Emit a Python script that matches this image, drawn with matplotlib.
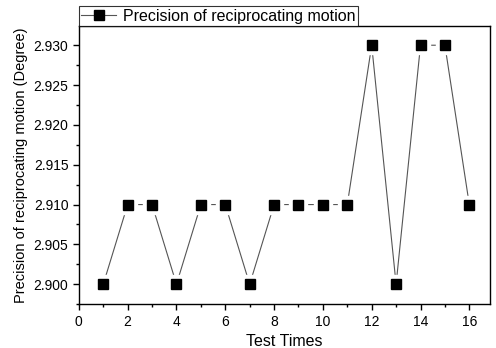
import matplotlib
matplotlib.use("Agg")
import matplotlib.pyplot as plt
from matplotlib.ticker import MultipleLocator, FormatStrFormatter
from matplotlib.lines import Line2D

plt.rcParams['font.family'] = ['Liberation Sans', 'DejaVu Sans']

test_times = [1, 2, 3, 4, 5, 6, 7, 8, 9, 10, 11, 12, 13, 14, 15, 16]
precision = [2.900, 2.910, 2.910, 2.900, 2.910, 2.910, 2.900, 2.910,
             2.910, 2.910, 2.910, 2.930, 2.900, 2.930, 2.930, 2.910]
series_label = "Precision of reciprocating motion"

fig = plt.figure(figsize=(4.96, 3.48), dpi=100)
ax = fig.add_axes([0.159, 0.126, 0.829, 0.799])

ax.plot(test_times, precision, color='#555555', lw=0.8, zorder=1)
ax.plot(test_times, precision, ls='none', marker='s', ms=13, mfc='white', mec='white', zorder=2)
ax.plot(test_times, precision, ls='none', marker='s', ms=7.5, mfc='black', mec='black', zorder=3)

ax.set_xlim(0, 16.85)
ax.set_ylim(2.8975, 2.9324)
ax.xaxis.set_major_locator(MultipleLocator(2))
ax.xaxis.set_minor_locator(MultipleLocator(1))
ax.yaxis.set_major_locator(MultipleLocator(0.005))
ax.yaxis.set_minor_locator(MultipleLocator(0.0025))
ax.yaxis.set_major_formatter(FormatStrFormatter('%.3f'))
ax.tick_params(which='both', direction='out', top=False, right=False, labelsize=10)
ax.tick_params(which='major', length=4, width=1)
ax.tick_params(which='minor', length=2.5, width=1)
for s in ax.spines.values():
    s.set_linewidth(1)

ax.set_xlabel("Test Times", fontsize=11.5)
ax.set_ylabel("Precision of reciprocating motion (Degree)", fontsize=10.5)

handle = Line2D([0], [0], color='#555555', lw=0.8, marker='s', ms=7.5, mfc='black', mec='black')
leg = ax.legend([handle], [series_label], loc='lower left', bbox_to_anchor=(0, 1.0),
                borderaxespad=0, fancybox=False, frameon=True, fontsize=11.5,
                handlelength=2.2, borderpad=0.15, handletextpad=0.4)
leg.get_frame().set_edgecolor('black')
leg.get_frame().set_linewidth(0.8)

fig.savefig("out.png", dpi=100)
